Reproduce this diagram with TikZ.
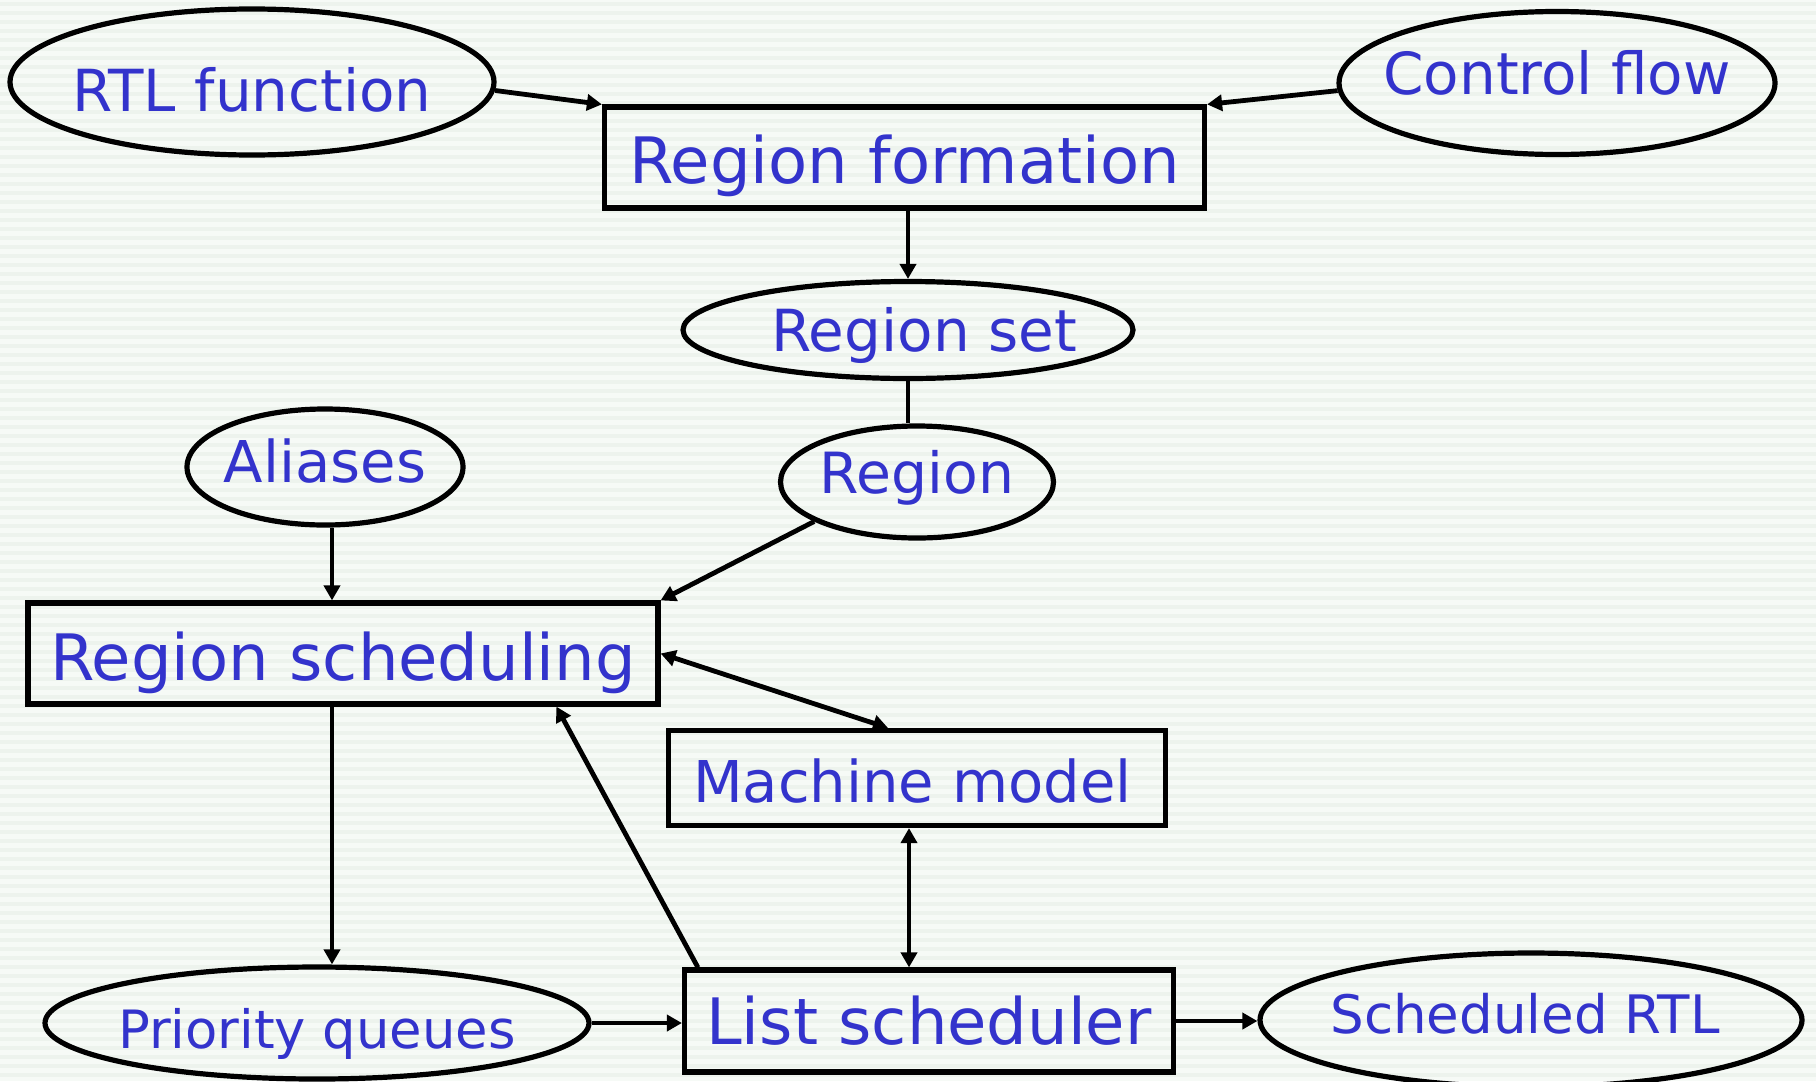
\documentclass[tikz,border=0pt]{standalone}
\usepackage{fontspec}
\setmainfont{DejaVu Sans}
\usetikzlibrary{shapes.geometric}
\usetikzlibrary{arrows.meta}
\usetikzlibrary{calc}

\definecolor{txtblue}{RGB}{51,51,204}
\definecolor{bgpale}{RGB}{246,250,246}
\definecolor{bgline}{RGB}{237,243,237}

\tikzset{
    oval/.style={ellipse, draw, line width=1.3pt, inner ysep=0pt, inner xsep=-15pt, text=txtblue, text depth=0pt},
    box/.style={rectangle, draw, line width=1.3pt, inner sep=0pt, text=txtblue, text depth=0pt},
    flow/.style={line width=1.2pt, -{Triangle[length=3.75pt,width=4pt]}},
    twoway/.style={line width=1.2pt, {Triangle[length=3.75pt,width=4pt]}-{Triangle[length=3.75pt,width=4pt]}},
    plain/.style={line width=1.2pt}
}

\begin{document}
\begin{tikzpicture}[x=0.25pt, y=-0.25pt]
    \useasboundingbox (0,0) rectangle (1816,1081);
    \fill[bgpale] (0,0) rectangle (1816,1081);
    \foreach \y in {4,13,...,1080}
        \draw[bgline, line width=0.8pt] (0,\y) -- (1816,\y);

    % top row
    \node[oval, minimum width=121pt, minimum height=36.5pt, text height=14.6pt,
          font=\fontsize{14.5pt}{17pt}\selectfont] (rtl) at (252,82) {RTL function};
    \node[oval, minimum width=109pt, minimum height=35.75pt, text height=5.6pt,
          font=\fontsize{14.5pt}{17pt}\selectfont] (ctrl) at (1557,83) {Control flow};
    \node[box, minimum width=150pt, minimum height=25.25pt, text height=12.9pt,
          font=\fontsize{16pt}{19pt}\selectfont] (form) at (904.5,157.5) {Region formation};

    % regions
    \node[oval, minimum width=112.5pt, minimum height=24.25pt, text height=10.6pt,
          font=\fontsize{14.5pt}{17pt}\selectfont] (regset) at (908,330) {\hspace*{8pt}Region set};
    \node[oval, minimum width=68.25pt, minimum height=28pt, text height=5.9pt,
          font=\fontsize{14.2pt}{17pt}\selectfont] (region) at (917,482) {Region};
    \node[oval, minimum width=69pt, minimum height=29pt, text height=7.5pt,
          font=\fontsize{14.4pt}{17pt}\selectfont] (aliases) at (325,467) {Aliases};

    % scheduling
    \node[box, minimum width=157.5pt, minimum height=25.25pt, text height=13.7pt,
          font=\fontsize{16pt}{19pt}\selectfont] (rsched) at (343,653.5) {Region scheduling};
    \node[box, minimum width=124.25pt, minimum height=23.75pt, text height=12pt,
          font=\fontsize{14.4pt}{17pt}\selectfont] (mm) at (917,778) {Machine model\hspace*{2.3pt}};

    % bottom row
    \node[oval, minimum width=136pt, minimum height=28pt, text height=12.6pt,
          font=\fontsize{13.2pt}{16pt}\selectfont] (pq) at (317,1023) {Priority queues};
    \node[box, minimum width=122.25pt, minimum height=25.5pt, text height=11.7pt,
          font=\fontsize{16pt}{19pt}\selectfont] (ls) at (929,1021) {List scheduler};
    \node[oval, minimum width=135.5pt, minimum height=33.5pt, text height=6.7pt,
          font=\fontsize{13.25pt}{16pt}\selectfont] (srtl) at (1531,1020) {Scheduled RTL\hspace*{3pt}};

    % connectors
    \draw[flow] (rtl.-2) -- (form.north west);
    \draw[flow] (ctrl.182) -- (form.north east);
    \draw[flow] (regset.north |- form.south) -- (regset.north);
    \draw[plain] (regset.south) -- (regset.south |- region.north);
    \draw[flow] (region.201) -- (rsched.north east);
    \draw[flow] (332,0 |- aliases.south) -- (332,0 |- rsched.north);
    \draw[twoway] (rsched.east) -- ($(mm.north)+(-29,0)$);
    \draw[flow] ($(ls.north west)+(16,0)$) -- ($(rsched.south west)+(531,0)$);
    \draw[twoway] (909,0 |- mm.south) -- (909,0 |- ls.north);
    \draw[flow] (332,0 |- rsched.south) -- (332,0 |- pq.north);
    \draw[flow] (pq.east) -- (pq.east -| ls.west);
    \draw[flow] (ls.east) -- (ls.east -| srtl.west);
\end{tikzpicture}
\end{document}
